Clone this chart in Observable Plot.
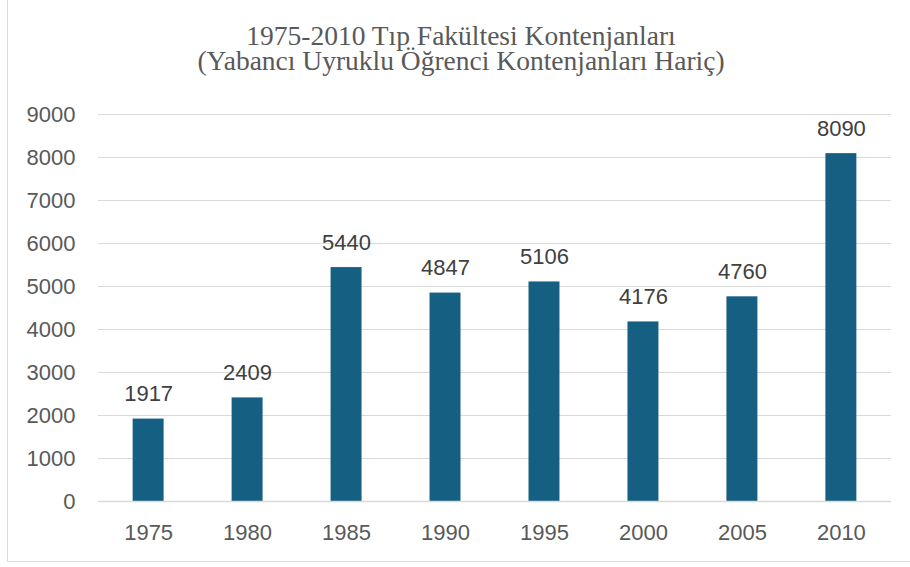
<!DOCTYPE html>
<html>
<head>
<meta charset="utf-8">
<script src="https://cdn.jsdelivr.net/npm/d3@7"></script>
<script src="https://cdn.jsdelivr.net/npm/@observablehq/plot@0.6"></script>
<style>
  html, body { margin: 0; padding: 0; background: #fff; }
  #wrap { position: relative; width: 910px; height: 567px; overflow: hidden; background: #fff; }
  #border { position: absolute; left: 7px; top: -3px; width: 920px; height: 565px; border: 1.5px solid #d9d9d9; box-sizing: border-box; }
  .title { position: absolute; left: 0; width: 922px; text-align: center; font-family: "Liberation Serif", "DejaVu Serif", serif; font-size: 27.5px; line-height: 25px; height: 25px; color: #595959; white-space: nowrap; }
  #t1 { top: 23px; }
  #t2 { top: 48px; }
  #chart { position: absolute; left: 0; top: 95px; }
</style>
</head>
<body>
<div id="wrap">
  <div id="border"></div>
  <div class="title" id="t1">1975-2010 Tıp Fakültesi Kontenjanları</div>
  <div class="title" id="t2">(Yabancı Uyruklu Öğrenci Kontenjanları Hariç)</div>
  <div id="chart"></div>
</div>
<script>
const years = ["1975", "1980", "1985", "1990", "1995", "2000", "2005", "2010"];
const quotas = [1917, 2409, 5440, 4847, 5106, 4176, 4760, 8090];
const yTicks = [0, 1000, 2000, 3000, 4000, 5000, 6000, 7000, 8000, 9000];

const data = years.map((y, i) => ({year: y, value: quotas[i]}));

const chart = Plot.plot({
  width: 910,
  height: 472,
  marginTop: 19,
  marginBottom: 66,
  marginLeft: 98,
  marginRight: 19,
  style: {fontFamily: "'Liberation Sans', Arial, sans-serif", fontSize: "22px", color: "#595959", background: "transparent", overflow: "visible"},
  x: {domain: years, paddingInner: 0.687, paddingOuter: 0.35, round: false, label: null},
  y: {domain: [0, 9000], label: null},
  marks: [
    Plot.gridY(yTicks, {stroke: "#d9d9d9", strokeOpacity: 1, strokeWidth: 1.2}),
    Plot.axisY(yTicks, {tickSize: 0, tickPadding: 23, label: null, fill: "#595959", tickFormat: d => String(d)}),
    Plot.axisX({tickSize: 0, tickPadding: 23, label: null, fill: "#595959"}),
    Plot.barY(data, {x: "year", y: "value", fill: "#156082"}),
    Plot.ruleY([0], {stroke: "#d9d9d9", strokeWidth: 1.5}),
    Plot.text(data, {x: "year", y: "value", text: d => String(d.value), dy: -25, lineAnchor: "middle", fill: "#404040", fontSize: 22})
  ]
});
document.getElementById("chart").appendChild(chart);
</script>
</body>
</html>
